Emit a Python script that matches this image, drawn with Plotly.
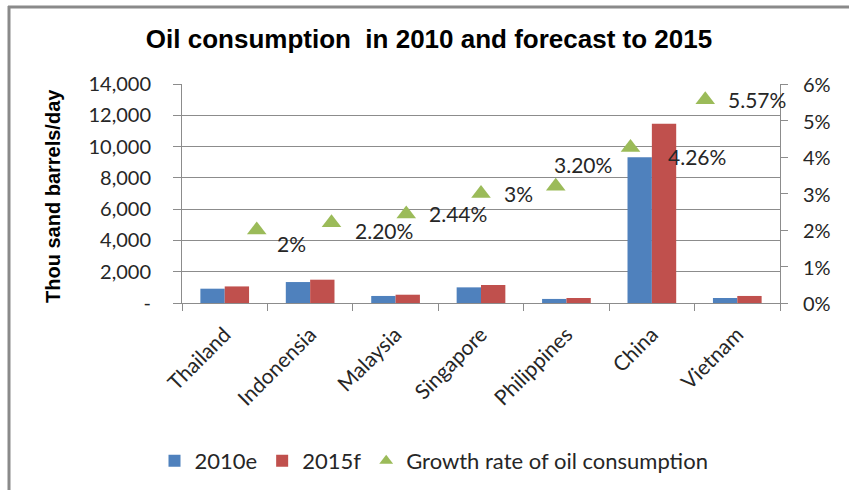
import plotly.graph_objects as go

# Oil consumption (thousand barrels/day) and expected growth rate
countries = ["Thailand", "Indonensia", "Malaysia", "Singapore", "Philippines", "China", "Vietnam"]
consumption_2010e = [915, 1340, 450, 1000, 260, 9310, 320]
consumption_2015f = [1060, 1490, 530, 1150, 320, 11460, 450]
growth_rate = [0.02, 0.022, 0.0244, 0.03, 0.032, 0.0426, 0.0557]
growth_labels = ["2%", "2.20%", "2.44%", "3%", "3.20%", "4.26%", "5.57%"]

left_ticks = [0, 2000, 4000, 6000, 8000, 10000, 12000, 14000]
left_tick_text = ["-", "2,000", "4,000", "6,000", "8,000", "10,000", "12,000", "14,000"]
right_ticks = [0, 0.01, 0.02, 0.03, 0.04, 0.05, 0.06]
right_tick_text = ["0%", "1%", "2%", "3%", "4%", "5%", "6%"]

# pixel offsets of each growth-rate label from its marker (x right, y up)
label_shift_x = [35, 52, 52, 37, 27, 66, 52]
label_shift_y = [-13, -8, 0, 0, 22, -9, 0]

BLUE = "#4F81BD"
RED = "#C0504D"
GREEN = "#9BBB59"
GRID = "#8C8C8C"
TEXT = "#262626"
BODY_FONT = "Lato"

W, H = 849, 490
L, R, T, B = 182, 780, 84, 303


def px_x(px):
    return (px - L) / (R - L)


def px_y(py):
    return (B - py) / (B - T)


fig = go.Figure()
fig.add_trace(go.Bar(name="2010e", x=countries, y=consumption_2010e,
                     marker=dict(color=BLUE, line=dict(width=0))))
fig.add_trace(go.Bar(name="2015f", x=countries, y=consumption_2015f,
                     marker=dict(color=RED, line=dict(width=0))))
fig.add_trace(go.Scatter(name="Growth rate of oil consumption",
                         x=list(range(len(countries))), y=growth_rate,
                         xaxis="x2", yaxis="y2", mode="markers",
                         marker=dict(symbol="triangle-up", size=17, color=GREEN)))

for i, (g, lab) in enumerate(zip(growth_rate, growth_labels)):
    fig.add_annotation(x=i, y=g, xref="x2", yref="y2", text=lab, showarrow=False,
                       xshift=label_shift_x[i], yshift=label_shift_y[i],
                       font=dict(family=BODY_FONT, size=21, color=TEXT))

# right-hand percentage tick labels, placed on the secondary y scale
for v, t in zip(right_ticks, right_tick_text):
    fig.add_annotation(x=px_x(801), y=v, xref="paper", yref="y2", text=t,
                       showarrow=False, xanchor="left", yanchor="middle",
                       font=dict(family=BODY_FONT, size=20, color=TEXT))

# y-axis title
fig.add_annotation(x=px_x(53), y=px_y(196), xref="paper", yref="paper",
                   xanchor="center", yanchor="middle",
                   text="<b>Thou sand barrels/day</b>", textangle=-90, showarrow=False,
                   font=dict(family="Liberation Sans", size=20, color="#000000"))

# chart frame (left and top edges)
fig.add_shape(type="line", xref="paper", yref="paper",
              x0=px_x(9), x1=px_x(9), y0=px_y(6), y1=px_y(495),
              line=dict(color="#8A8A8A", width=3))
fig.add_shape(type="line", xref="paper", yref="paper",
              x0=px_x(8), x1=px_x(860), y0=px_y(7), y1=px_y(7),
              line=dict(color="#8A8A8A", width=3))

fig.update_layout(
    width=W, height=H,
    margin=dict(l=L, r=W - R, t=T, b=H - B, autoexpand=False),
    paper_bgcolor="white", plot_bgcolor="white",
    barmode="group", bargap=0.43, bargroupgap=0,
    title=dict(text="<b>Oil consumption  in 2010 and forecast to 2015</b>",
               x=429 / W, xanchor="center", y=1 - 39 / H, yanchor="middle",
               font=dict(family="Liberation Sans", size=26, color="#000000")),
    xaxis=dict(showline=True, linecolor=GRID, linewidth=1, ticks="outside",
               tickson="boundaries", ticklen=7, tickcolor=GRID, tickangle=-45,
               ticklabelstandoff=10,
               tickfont=dict(family=BODY_FONT, size=21, color=TEXT),
               showgrid=False, mirror=False),
    xaxis2=dict(overlaying="x", anchor="y2", range=[-1, 7], visible=False),
    yaxis=dict(range=[0, 14000], tickvals=left_ticks, ticktext=left_tick_text,
               showline=True, linecolor=GRID, linewidth=1, ticks="outside",
               ticklen=8, tickcolor=GRID, showgrid=True, gridcolor=GRID,
               gridwidth=1, zeroline=False, ticklabelstandoff=18,
               tickfont=dict(family=BODY_FONT, size=20, color=TEXT)),
    yaxis2=dict(overlaying="y", side="right", anchor="x", range=[0, 0.06],
                tickvals=right_ticks, showticklabels=False,
                showline=True, linecolor=GRID, linewidth=1, ticks="outside",
                ticklen=7, tickcolor=GRID, showgrid=False, zeroline=False),
    legend=dict(orientation="h", x=px_x(434), xanchor="center",
                y=px_y(461), yanchor="middle",
                font=dict(family=BODY_FONT, size=22, color=TEXT),
                itemsizing="constant", traceorder="normal"),
    showlegend=True,
)

fig.write_html("out.html")
